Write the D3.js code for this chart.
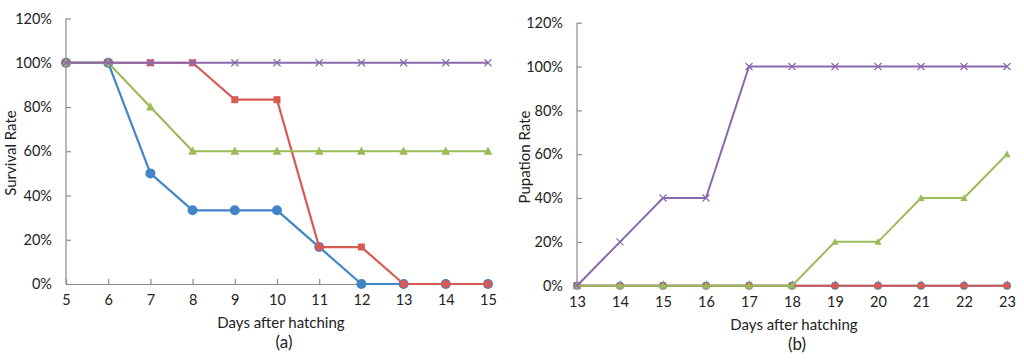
<!DOCTYPE html>
<html>
<head>
<meta charset="utf-8">
<script src="https://cdn.jsdelivr.net/npm/d3@7"></script>
<style>
  body { margin: 0; background: white; }
  text { font-family: Lato, "Open Sans", sans-serif; fill: #222; }
</style>
</head>
<body>
<svg id="plot"></svg>
<script>
// Data
const daysA = [5, 6, 7, 8, 9, 10, 11, 12, 13, 14, 15];
const survivalBlue   = [100, 100, 50, 33.3, 33.3, 33.3, 16.7, 0, 0, 0, 0];
const survivalRed    = [100, 100, 100, 100, 83.3, 83.3, 16.7, 16.7, 0, 0, 0];
const survivalGreen  = [100, 100, 80, 60, 60, 60, 60, 60, 60, 60, 60];
const survivalPurple = [100, 100, 100, 100, 100, 100, 100, 100, 100, 100, 100];

const daysB = [13, 14, 15, 16, 17, 18, 19, 20, 21, 22, 23];
const pupationBlue   = [0, 0, 0, 0, 0, 0, 0, 0, 0, 0, 0];
const pupationRed    = [0, 0, 0, 0, 0, 0, 0, 0, 0, 0, 0];
const pupationGreen  = [0, 0, 0, 0, 0, 0, 20, 20, 40, 40, 60];
const pupationPurple = [0, 20, 40, 40, 100, 100, 100, 100, 100, 100, 100];

const yTicks = [0, 20, 40, 60, 80, 100, 120];

const colors = { blue: '#4285c6', red: '#d65b54', green: '#9bbb59', purple: '#8b68ad' };

let width = 1024, height = 364;

let svg = d3.select('#plot')
  .attr('width', width)
  .attr('height', height)
  .style('background', 'white');

function drawPanel(p) {
  let xScale = d3.scaleLinear()
    .domain(d3.extent(p.days))
    .range([p.left, p.right]);

  let yScale = d3.scaleLinear()
    .domain([0, 120])
    .range([p.bottom, p.top]);

  let g = svg.append('g');

  // axes (ticks point inward, like the original)
  let xAxis = g.append('g')
    .attr('transform', `translate(0, ${p.bottom})`)
    .call(d3.axisBottom(xScale).tickValues(p.days).tickFormat(d3.format('d'))
      .tickSizeInner(-5).tickSizeOuter(0).tickPadding(11));

  let yAxis = g.append('g')
    .attr('transform', `translate(${p.left}, 0)`)
    .call(d3.axisLeft(yScale).tickValues(yTicks).tickFormat(d => d + '%')
      .tickSizeInner(-5).tickSizeOuter(0).tickPadding(14));

  [xAxis, yAxis].forEach(a => {
    a.selectAll('path, line').attr('stroke', '#8c8c8c').attr('stroke-width', 1.2);
    a.selectAll('text').style('font-size', '14.5px').style('font-family', 'Lato, sans-serif').attr('fill', '#222');
  });
  yAxis.select('.domain').attr('d', `M0,${p.bottom}V${p.top}`);

  // axis titles
  g.append('text')
    .attr('x', p.titleX)
    .attr('y', p.bottom + 44)
    .attr('text-anchor', 'middle')
    .style('font-size', '15px')
    .text('Days after hatching');

  g.append('text')
    .attr('x', p.titleX + 3)
    .attr('y', p.bottom + 64)
    .attr('text-anchor', 'middle')
    .style('font-size', '17px')
    .text(p.panel);

  g.append('text')
    .attr('transform', `translate(${p.yLabelX}, ${p.yLabelY}) rotate(-90)`)
    .attr('text-anchor', 'middle')
    .style('font-size', '15px')
    .text(p.yLabel);

  let line = d3.line()
    .x((d, i) => xScale(p.days[i]))
    .y(d => yScale(d));

  p.series.forEach(s => {
    let sg = g.append('g');
    sg.append('path')
      .datum(s.values)
      .attr('d', line)
      .attr('fill', 'none')
      .attr('stroke', s.color)
      .attr('stroke-width', p.lineWidth);

    let pts = sg.selectAll('.pt')
      .data(s.values)
      .enter()
      .append('g')
      .attr('transform', (d, i) => `translate(${xScale(p.days[i])}, ${yScale(d)})`);

    let m = p.marker;
    if (s.shape === 'circle') {
      pts.append('circle').attr('r', m.circle).attr('fill', s.color);
    } else if (s.shape === 'square') {
      pts.append('rect')
        .attr('x', -m.square / 2).attr('y', -m.square / 2)
        .attr('width', m.square).attr('height', m.square)
        .attr('fill', s.color);
    } else if (s.shape === 'triangle') {
      let t = m.triangle;
      pts.append('path')
        .attr('d', `M0,${-t * 0.6}L${t * 0.55},${t * 0.45}L${-t * 0.55},${t * 0.45}Z`)
        .attr('fill', s.color);
    } else {
      let c = m.cross / 2;
      pts.append('path')
        .attr('d', `M${-c},${-c}L${c},${c}M${-c},${c}L${c},${-c}`)
        .attr('stroke', s.color)
        .attr('stroke-width', 1.2);
    }
  });
}

drawPanel({
  days: daysA,
  left: 66, right: 488, top: 18.5, bottom: 284,
  titleX: 281, yLabelX: 16, yLabelY: 153,
  yLabel: 'Survival Rate', panel: '(a)',
  lineWidth: 2.2,
  marker: { circle: 5, square: 7, triangle: 8, cross: 7 },
  series: [
    { values: survivalBlue, color: colors.blue, shape: 'circle' },
    { values: survivalRed, color: colors.red, shape: 'square' },
    { values: survivalGreen, color: colors.green, shape: 'triangle' },
    { values: survivalPurple, color: colors.purple, shape: 'cross' }
  ]
});

drawPanel({
  days: daysB,
  left: 577, right: 1007, top: 22.7, bottom: 285.7,
  titleX: 794, yLabelX: 530, yLabelY: 157,
  yLabel: 'Pupation Rate', panel: '(b)',
  lineWidth: 2,
  marker: { circle: 4, square: 6, triangle: 6.5, cross: 7 },
  series: [
    { values: pupationBlue, color: colors.blue, shape: 'circle' },
    { values: pupationRed, color: colors.red, shape: 'square' },
    { values: pupationGreen, color: colors.green, shape: 'triangle' },
    { values: pupationPurple, color: colors.purple, shape: 'cross' }
  ]
});
</script>
</body>
</html>
